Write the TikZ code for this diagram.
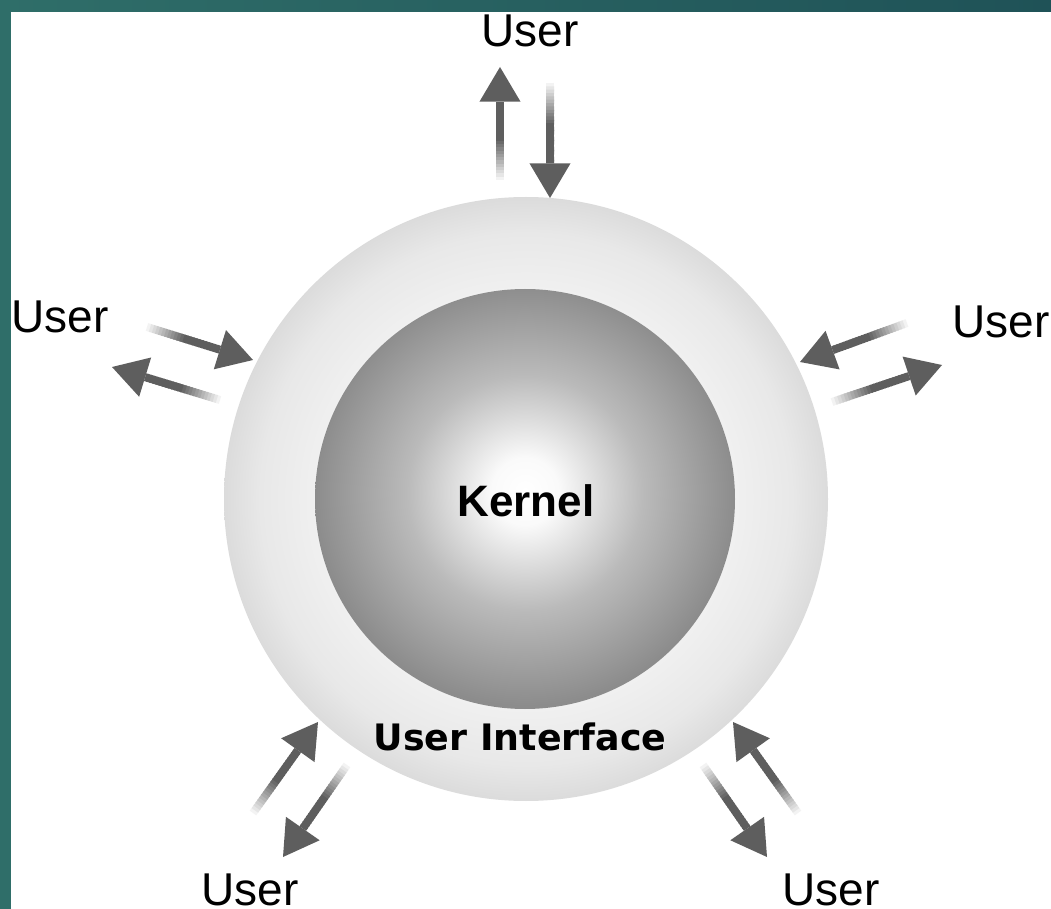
\documentclass[tikz,border=0pt]{standalone}
\usepackage{fontspec}
\setmainfont{Liberation Sans}
\newfontfamily\djv{DejaVu Sans}
\usetikzlibrary{calc}
\definecolor{teal1}{HTML}{2F6E69}
\definecolor{teal2}{HTML}{1F5257}
\definecolor{arrowgray}{HTML}{5E5E5E}
\pgfdeclareradialshading{ringshade}{\pgfpoint{0bp}{0bp}}{color(0bp)=(white); color(16bp)=(white!95!black); color(22bp)=(white!91!black); color(25bp)=(white!86!black); color(50bp)=(white!86!black)}
\pgfdeclareradialshading{kernelshade}{\pgfpoint{0bp}{1bp}}{color(0bp)=(white); color(4bp)=(white!98!black); color(14bp)=(white!73!black); color(25bp)=(white!55!black); color(50bp)=(white!55!black)}
\newcommand\fadearrow[2]{%
  \coordinate (hb) at ($(#2)!26pt!(#1)$);
  \coordinate (hl) at ($(hb)!15.4pt!90:(#2)$);
  \coordinate (hr) at ($(hb)!15.4pt!-90:(#2)$);
  \foreach \i in {1,...,24}{%
    \pgfmathsetmacro\fa{(\i-1)/24}%
    \pgfmathsetmacro\fb{min(1,(\i+0.4)/24)}%
    \pgfmathsetmacro\pc{min(100,100*\i/13)}%
    \draw[line width=6pt, arrowgray!\pc!white] ($(#1)!\fa!(hb)$) -- ($(#1)!\fb!(hb)$);
  }
  \fill[arrowgray] (#2) -- (hl) -- (hr) -- cycle;
}
\tikzset{
  userlabel/.style={anchor=base, inner sep=0pt, font=\fontsize{34.5pt}{40pt}\selectfont, text=black},
}
\begin{document}
\begin{tikzpicture}[x=0.75pt, y=-0.75pt]
\useasboundingbox (0,0) rectangle (1051,909);
\shade[left color=teal1, right color=teal2] (0,0) rectangle (1051,909);
\fill[white] (11,12) rectangle (1051,909);

% circles
\node[circle, minimum size=453pt, inner sep=0pt, shade, shading=ringshade] (ui) at (526,499) {};
\node[circle, minimum size=315pt, inner sep=0pt, shade, shading=kernelshade] (kernel) at (525,499) {};
\node[anchor=base, inner sep=0pt, font=\fontsize{33pt}{38pt}\selectfont\bfseries] (kt) at (526,517) {Kernel};
\node[anchor=base, inner sep=0pt, font=\djv\fontsize{27.3pt}{32pt}\selectfont\bfseries] (uit) at (520,750) {User Interface};

% user labels
\node[userlabel] (utop) at (530,47) {User};
\node[userlabel] (uleft) at (60,333) {User};
\node[userlabel] (uright) at (1001,338) {User};
\node[userlabel] (ubl) at (250,905) {User};
\node[userlabel] (ubr) at (831,905) {User};

% arrow end points
\coordinate (tA) at (500,180); \coordinate (hA) at (500,67);
\coordinate (tB) at (550,83);  \coordinate (hB) at (550,198);
\coordinate (tC) at (907,323); \coordinate (hC) at (800,362);
\coordinate (tD) at (832,402); \coordinate (hD) at (942,365);
\coordinate (tE) at (147,327); \coordinate (hE) at (253,360);
\coordinate (tF) at (220,400); \coordinate (hF) at (112,367);
\coordinate (tG) at (253,813); \coordinate (hG) at (318,722);
\coordinate (tH) at (347,765); \coordinate (hH) at (283,857);
\coordinate (tI) at (798,813); \coordinate (hI) at (733,722);
\coordinate (tJ) at (703,765); \coordinate (hJ) at (767,857);

\fadearrow{tA}{hA}
\fadearrow{tB}{hB}
\fadearrow{tC}{hC}
\fadearrow{tD}{hD}
\fadearrow{tE}{hE}
\fadearrow{tF}{hF}
\fadearrow{tG}{hG}
\fadearrow{tH}{hH}
\fadearrow{tI}{hI}
\fadearrow{tJ}{hJ}
\end{tikzpicture}
\end{document}
